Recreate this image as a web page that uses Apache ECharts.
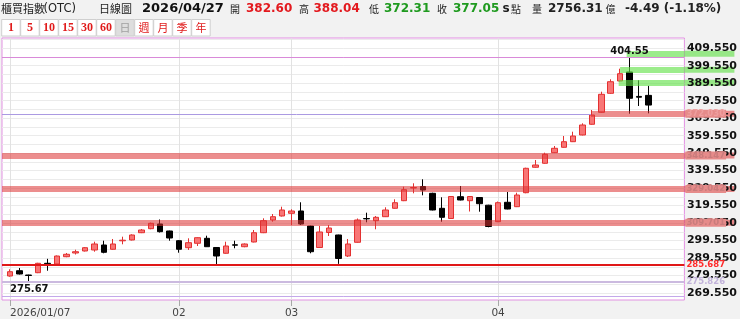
<!DOCTYPE html>
<html>
<head>
<meta charset="utf-8">
<style>
html, body { margin: 0; padding: 0; background: #f2f2f2; }
#chart { width: 740px; height: 319px; }
</style>
<script src="https://cdn.jsdelivr.net/npm/echarts@6/dist/echarts.min.js"></script>
</head>
<body>
<div id="chart"></div>
<script>
// daily bars, 櫃買指數
var dates = [
  '2026/01/07', '2026/01/08', '2026/01/09', '2026/01/12', '2026/01/13', '2026/01/14', '2026/01/15', '2026/01/16',
  '2026/01/19', '2026/01/20', '2026/01/21', '2026/01/22', '2026/01/23', '2026/01/26', '2026/01/27', '2026/01/28',
  '2026/01/29', '2026/01/30',
  '2026/02/02', '2026/02/03', '2026/02/04', '2026/02/05', '2026/02/06', '2026/02/09', '2026/02/10', '2026/02/11',
  '2026/02/23', '2026/02/24', '2026/02/25', '2026/02/26',
  '2026/03/02', '2026/03/03', '2026/03/04', '2026/03/05', '2026/03/06', '2026/03/09', '2026/03/10', '2026/03/11',
  '2026/03/12', '2026/03/13', '2026/03/16', '2026/03/17', '2026/03/18', '2026/03/19', '2026/03/20', '2026/03/23',
  '2026/03/24', '2026/03/25', '2026/03/26', '2026/03/27', '2026/03/30', '2026/03/31',
  '2026/04/01', '2026/04/02', '2026/04/07', '2026/04/08', '2026/04/09', '2026/04/10', '2026/04/13', '2026/04/14',
  '2026/04/15', '2026/04/16', '2026/04/17', '2026/04/20', '2026/04/21', '2026/04/22', '2026/04/23', '2026/04/24',
  '2026/04/27'
];
var openV = [
  279.26, 282.29, 279.83, 281.15, 286.53, 286.13, 290.30, 292.42, 293.57, 294.14, 297.00, 294.54, 299.40, 299.86,
  304.03, 306.32, 309.01, 305.01, 299.46, 295.45, 297.97, 300.83, 295.57, 292.25, 297.10, 296.02, 298.71, 304.03,
  311.30, 313.59, 315.13, 316.45, 307.87, 295.57, 304.15, 302.72, 290.70, 298.54, 312.15, 310.90, 313.19, 317.99,
  322.34, 329.60, 330.47, 326.57, 317.99, 312.16, 324.63, 322.34, 324.17, 319.77, 310.33, 321.43, 318.91, 326.92,
  341.45, 343.74, 349.80, 352.89, 356.10, 359.93, 366.05, 372.92, 383.78, 390.82, 395.97, 382.00, 382.60
];
var closeV = [
  281.72, 280.41, 279.55, 286.53, 286.24, 290.70, 291.68, 293.16, 295.45, 297.57, 292.82, 297.57, 299.74, 302.72,
  305.58, 309.41, 304.61, 301.00, 294.54, 298.31, 301.17, 296.02, 290.70, 296.43, 296.90, 297.57, 304.03, 310.90,
  313.19, 317.02, 316.45, 309.01, 293.16, 304.44, 306.72, 289.27, 297.57, 311.30, 311.95, 312.84, 317.02, 321.20,
  328.63, 329.85, 328.46, 317.02, 312.84, 324.74, 322.74, 324.74, 320.63, 307.58, 321.20, 317.59, 325.60, 340.88,
  342.77, 348.89, 352.32, 356.10, 359.36, 365.65, 371.37, 383.21, 390.42, 395.00, 380.93, 381.54, 377.05
];
var lowV = [
  278.86, 280.12, 275.67, 280.90, 282.29, 285.90, 290.00, 291.56, 293.30, 293.16, 292.25, 294.30, 297.40, 299.60,
  303.80, 306.00, 304.15, 299.46, 292.59, 294.14, 296.43, 295.90, 285.50, 292.00, 295.11, 295.70, 298.50, 303.80,
  310.33, 313.30, 308.44, 308.44, 292.25, 295.30, 302.15, 286.20, 290.13, 298.30, 309.98, 305.98, 313.00, 317.80,
  322.10, 326.57, 325.43, 316.80, 310.33, 311.90, 322.50, 316.16, 316.05, 307.12, 310.10, 317.40, 318.70, 326.60,
  341.20, 343.50, 349.60, 352.70, 355.90, 359.70, 365.80, 372.70, 383.50, 390.60, 372.11, 376.52, 372.31
];
var highV = [
  283.10, 283.84, 280.00, 286.80, 289.10, 291.00, 292.42, 294.31, 295.80, 298.89, 299.46, 300.43, 301.75, 303.10,
  306.15, 309.80, 311.59, 305.20, 299.86, 300.83, 301.40, 302.32, 295.80, 298.89, 299.46, 297.90, 305.58, 312.27,
  314.73, 318.91, 317.42, 321.43, 308.10, 307.87, 308.44, 302.90, 300.43, 312.16, 315.48, 313.59, 318.57, 323.14,
  330.35, 332.30, 334.58, 326.90, 324.29, 325.00, 330.75, 325.00, 324.40, 320.00, 321.88, 327.32, 326.92, 341.20,
  345.63, 349.80, 353.64, 359.36, 361.82, 366.62, 374.23, 384.70, 391.79, 397.86, 404.55, 391.22, 388.04
];
var volumeYi = 2756.31;

// right axis tick labels
var yLabels = [409.55, 399.55, 389.55, 379.55, 369.55, 359.55, 349.55, 339.55, 329.55, 319.55, 309.55, 299.55, 289.55, 279.55, 269.55];

// horizontal levels
var redBands = [348.147, 329.042, 309.701];
var supportLevel = 372.03;
var supportFrom = 61.9;            // bar index where the red zone starts
var greenBands = [406.4, 397.2, 389.8];
var greenFrom = [65.7, 65.0, 64.85];
var redLine = 285.687;
var lavenderLine = 275.826;
var bottomLine = 267.4;

var buttons = ['1', '5', '10', '15', '30', '60', '日', '週', '月', '季', '年'];

// axis ranges fitted to the frame
var X_MIN = -0.849, X_MAX = 71.85;
var Y_MIN = 265.53, Y_MAX = 415.42;

var kData = dates.map(function (d, i) {
  return [i, openV[i], closeV[i], lowV[i], highV[i]];
});
var maxHigh = Math.max.apply(null, highV);
var maxIdx = highV.indexOf(maxHigh);
var minLow = Math.min.apply(null, lowV);

var monthTicks = [];
dates.forEach(function (d, i) {
  if (i === 0 || d.slice(5, 7) !== dates[i - 1].slice(5, 7)) monthTicks.push(i);
});

var yGrid = [];
yLabels.forEach(function (v) { yGrid.push(v, +(v + 5).toFixed(2)); });

var BAND_RED = 'rgba(220,50,50,0.55)';
var BAND_GREEN = 'rgba(95,225,70,0.62)';

function sideLabel(v, color, bg) {
  return {
    show: true, position: 'end', distance: 1,
    formatter: v.toFixed(3), color: color, backgroundColor: bg,
    fontSize: 8.5, fontWeight: 'bold', fontFamily: 'DejaVu Sans',
    lineHeight: 8, padding: [0, 1]
  };
}
function extLabel(bg) {
  return {
    show: true, position: 'end', distance: 0, formatter: ' ',
    backgroundColor: bg, width: 50, height: 6, padding: 0, lineHeight: 6
  };
}
var noLine = { width: 0, color: 'rgba(0,0,0,0)' };

// zones drawn first (green zones, zone parts over the axis area)
var lowerLines = [];
greenBands.forEach(function (g, i) {
  lowerLines.push([
    { coord: [greenFrom[i], g], lineStyle: { color: BAND_GREEN, width: 6, type: 'solid' }, label: extLabel(BAND_GREEN) },
    { coord: [X_MAX, g] }
  ]);
});
redBands.concat([supportLevel]).forEach(function (v) {
  lowerLines.push({ yAxis: v, lineStyle: noLine, label: extLabel(BAND_RED) });
});

// lines and their value tags
var upperLines = [];
redBands.forEach(function (v) {
  upperLines.push({ yAxis: v, lineStyle: { color: BAND_RED, width: 6, type: 'solid' }, label: sideLabel(v, '#c97c7c', '#e68b8a') });
});
upperLines.push([
  { coord: [X_MIN, supportLevel], lineStyle: { color: '#ab9ae2', width: 1, type: 'solid' }, label: { show: false } },
  { coord: [supportFrom, supportLevel] }
]);
upperLines.push([
  { coord: [supportFrom, supportLevel], lineStyle: { color: BAND_RED, width: 6, type: 'solid' }, label: sideLabel(supportLevel, '#ee9f9f', '#e68b8a') },
  { coord: [X_MAX, supportLevel] }
]);
upperLines.push({ yAxis: redLine, lineStyle: { color: '#e01818', width: 2, type: 'solid' }, label: sideLabel(redLine, '#ff2a2a', '#f2f2f2') });
upperLines.push({ yAxis: lavenderLine, lineStyle: { color: '#cbbadf', width: 2, type: 'solid' }, label: sideLabel(lavenderLine, '#c2b3da', '#f2f2f2') });
upperLines.push({ yAxis: maxHigh, lineStyle: { color: '#d98ad9', width: 1, type: 'solid' }, label: { show: false } });
upperLines.push({ yAxis: bottomLine, lineStyle: { color: '#c4a8ea', width: 1, type: 'solid' }, label: { show: false } });

// header
var last = dates.length - 1;
var chg = closeV[last] - closeV[last - 1];
var pct = chg / closeV[last - 1] * 100;
var RED = '#e3191e', GREEN = '#1f9a1f', INK = '#222';
var NUM = 'bold 12px "DejaVu Sans"';
var CJK = '11px "Noto Sans CJK TC"';
var CJKS = '10px "Noto Sans CJK TC"';
var headerItems = [
  [1, '櫃買指數', CJK, INK],
  [43.5, '(OTC)', '11.5px "DejaVu Sans"', INK],
  [99, '日線圖', CJK, INK],
  [142, dates[last], 'bold 13px "DejaVu Sans"', '#111'],
  [230, '開', CJKS, INK],
  [246, openV[last].toFixed(2), NUM, RED],
  [299, '高', CJKS, INK],
  [313.5, highV[last].toFixed(2), NUM, RED],
  [369, '低', CJKS, INK],
  [384, lowV[last].toFixed(2), NUM, GREEN],
  [437, '收', CJKS, INK],
  [453, closeV[last].toFixed(2), NUM, GREEN],
  [502.5, 's', NUM, INK],
  [511, '點', CJKS, INK],
  [532, '量', CJKS, INK],
  [548, volumeYi.toFixed(2), NUM, INK],
  [605.5, '億', CJKS, INK],
  [625, chg.toFixed(2) + ' (' + pct.toFixed(2) + '%)', NUM, INK]
];
var graphics = headerItems.map(function (h) {
  return { type: 'text', x: h[0], y: 9, style: { text: h[1], font: h[2], fill: h[3], align: 'left', verticalAlign: 'middle' } };
});
buttons.forEach(function (b, i) {
  var x = 1.7 + i * 19;
  var cur = b === '日';
  graphics.push({ type: 'rect', shape: { x: x, y: 19.5, width: 18.5, height: 16.5 },
    style: { fill: cur ? '#dedede' : '#fff', stroke: '#cfcfcf', lineWidth: 1 } });
  var digit = /\d/.test(b);
  graphics.push({ type: 'text', x: x + 9.25, y: 28, style: {
    text: b, align: 'center', verticalAlign: 'middle',
    font: digit ? 'bold 12px "Liberation Serif"' : '11px "Noto Sans CJK TC"',
    fill: cur ? '#a0a0a0' : '#e01b1b' } });
});

var chart = echarts.init(document.getElementById('chart'));
chart.setOption({
  backgroundColor: '#f2f2f2',
  animation: false,
  graphic: graphics,
  grid: { left: 2, right: 53, top: 38, bottom: 19, show: true, backgroundColor: '#fff', borderColor: '#e291e2', borderWidth: 1 },
  xAxis: {
    type: 'value', min: X_MIN, max: X_MAX,
    axisLine: { show: false },
    axisTick: { show: true, customValues: monthTicks, length: 6, lineStyle: { color: '#a8a8a8' } },
    axisLabel: {
      customValues: monthTicks, margin: 8, color: '#444', fontSize: 10.5, fontFamily: 'DejaVu Sans',
      alignMinLabel: 'left',
      formatter: function (v) { return v === 0 ? dates[0] : dates[v].slice(5, 7); }
    },
    splitLine: { show: true, lineStyle: { color: '#e2e2e2' } }
  },
  yAxis: [{
    type: 'value', position: 'right', min: Y_MIN, max: Y_MAX,
    axisLine: { show: false }, axisTick: { show: false, customValues: yGrid }, axisLabel: { show: false },
    splitLine: { show: true, lineStyle: { color: '#ebebeb' } }
  }, {
    type: 'value', position: 'right', min: Y_MIN, max: Y_MAX, z: 3,
    axisLine: { show: false }, axisTick: { show: false }, splitLine: { show: false },
    axisLabel: {
      customValues: yLabels, margin: 2.5, color: '#111', fontSize: 11, fontWeight: 'bold', fontFamily: 'DejaVu Sans',
      formatter: function (v) { return v.toFixed(3); }
    }
  }],
  series: [{
    type: 'candlestick', z: 1, clip: false, barWidth: 6,
    data: kData,
    itemStyle: { color: '#f87676', color0: '#000', borderColor: '#e33131', borderColor0: '#000', borderWidth: 1 },
    markPoint: {
      symbol: 'circle', symbolSize: 0, silent: true,
      label: { color: '#111', fontSize: 10, fontWeight: 'bold', fontFamily: 'DejaVu Sans' },
      data: [
        { coord: [maxIdx, maxHigh], label: { position: 'top', distance: 1, formatter: maxHigh.toFixed(2) } },
        { coord: [0, minLow], label: { position: [0, 2], align: 'left', verticalAlign: 'top', formatter: minLow.toFixed(2) } }
      ]
    },
    markLine: { z: 2, silent: true, symbol: ['none', 'none'], animation: false, data: lowerLines }
  }, {
    type: 'line', z: 5, clip: false, data: [],
    markLine: { z: 5, silent: true, symbol: ['none', 'none'], animation: false, data: upperLines }
  }]
});
</script>
</body>
</html>
